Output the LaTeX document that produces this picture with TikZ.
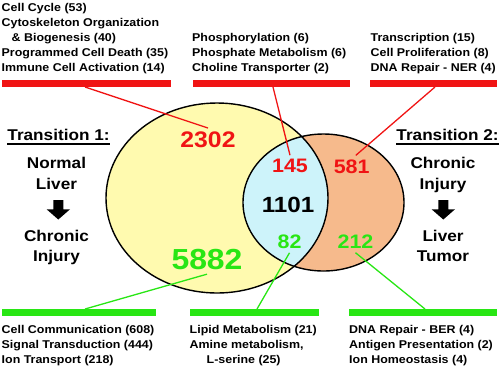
\documentclass[tikz,border=0pt]{standalone}
\usepackage{xcolor}
\usepackage{fontspec}
\setmainfont{Liberation Sans}[FakeStretch=1.1]
\usepackage{tikz}

\definecolor{vennred}{RGB}{240,20,20}
\definecolor{venngreen}{RGB}{40,230,20}
\definecolor{vennyellow}{RGB}{255,250,175}
\definecolor{venncyan}{RGB}{205,243,250}
\definecolor{vennpeach}{RGB}{246,186,140}

\begin{document}
\begin{tikzpicture}[x=1pt, y=-1pt,
        golist/.style={font=\bfseries\fontsize{11.3}{15.2}\selectfont, align=left, anchor=north west, inner sep=0},
        stage/.style={font=\bfseries\fontsize{15.6}{18}\selectfont, anchor=base, inner sep=0},
        count/.style={font=\bfseries\fontsize{#1}{#1}\selectfont, inner sep=4pt},
        upline/.style={vennred, line width=1.3pt},
        downline/.style={venngreen, line width=1.3pt}]
        \useasboundingbox (0,0) rectangle (500,368);

        \fill[vennyellow] (217,198) ellipse [x radius=111pt, y radius=95pt];
        \fill[vennpeach] (323.5,202.5) ellipse [x radius=80.5pt, y radius=68.5pt];
        \begin{scope}
            \clip (217,198) ellipse [x radius=111pt, y radius=95pt];
            \fill[venncyan] (323.5,202.5) ellipse [x radius=80.5pt, y radius=68.5pt];
        \end{scope}
        \draw[line width=1.4pt] (217,198) ellipse [x radius=111pt, y radius=95pt];
        \draw[line width=1.4pt] (323.5,202.5) ellipse [x radius=80.5pt, y radius=68.5pt];

        \fill[vennred] (2,80) rectangle (170.5,87);
        \fill[vennred] (192.5,80) rectangle (349.5,87);
        \fill[vennred] (369.5,80) rectangle (497,87);
        \fill[venngreen] (2,309) rectangle (155.5,316);
        \fill[venngreen] (189.5,309) rectangle (318.5,316);
        \fill[venngreen] (349,309) rectangle (497,316);

        \coordinate (rfootA) at (85,87);
        \coordinate (rfootB) at (273,87);
        \coordinate (rfootC) at (435,87);
        \coordinate (gfootA) at (85,309);
        \coordinate (gfootB) at (257,309);
        \coordinate (gfootC) at (425,309);

        \node[golist] (goA) at (1.5,2.8) {Cell Cycle (53)\\Cytoskeleton Organization\\\hspace*{10pt}\& Biogenesis (40)\\Programmed Cell Death (35)\\Immune Cell Activation (14)};
        \node[golist] (goB) at (192,33.2) {Phosphorylation (6)\\Phosphate Metabolism (6)\\Choline Transporter (2)};
        \node[golist] (goC) at (370.5,33.2) {Transcription (15)\\Cell Proliferation (8)\\DNA Repair - NER (4)};
        \node[golist] (goD) at (1.5,324.8) {Cell Communication (608)\\Signal Transduction (444)\\Ion Transport (218)};
        \node[golist] (goE) at (189.5,324.8) {Lipid Metabolism (21)\\Amine metabolism,\\\hspace*{17pt}L-serine (25)};
        \node[golist] (goF) at (349,324.8) {DNA Repair - BER (4)\\Antigen Presentation (2)\\Ion Homeostasis (4)};

        \node[count=22.5, text=vennred] (n2302) at (208,140.2) {2302};
        \node[count=29, text=venngreen] (n5882) at (207,259.7) {5882};
        \node[count=22] (n1101) at (288,205) {1101};
        \node[count=19.5, text=vennred] (n145) at (290,166.2) {145};
        \node[count=19.5, text=vennred] (n581) at (351.7,166.5) {581};
        \node[count=19.5, text=venngreen] (n82) at (289.5,241.7) {82};
        \node[count=19.5, text=venngreen] (n212) at (355.5,241.7) {212};

        \draw[upline] (rfootA) -- (n2302.north);
        \draw[upline] (rfootB) -- (n145.north);
        \draw[upline] (rfootC) -- (n581.70);
        \draw[downline] (gfootA) -- (n5882.south);
        \draw[downline] (gfootB) -- (n82.south);
        \draw[downline] (gfootC) -- (n212.south);

        \node[stage] (trA) at (58.5,140.7) {Transition 1:};
        \draw[line width=2pt] ([yshift=-3.3pt]trA.base west) -- ([yshift=-3.3pt]trA.base east);
        \node[stage] (fromA) at (56.5,168.3) {Normal};
        \node[stage] (fromB) at (56.5,189) {Liver};
        \node[stage] (toA) at (56.5,241) {Chronic};
        \node[stage] (toB) at (56.5,261.7) {Injury};

        \node[stage] (trB) at (447.5,140.7) {Transition 2:};
        \draw[line width=2pt] ([yshift=-3.3pt]trB.base west) -- ([yshift=-3.3pt]trB.base east);
        \node[stage] (fromC) at (443,168.3) {Chronic};
        \node[stage] (fromD) at (443,189) {Injury};
        \node[stage] (toC) at (443,241) {Liver};
        \node[stage] (toD) at (443,261.7) {Tumor};

        \foreach \ax in {58.3,443.3} {
            \fill ({\ax-5},200) -- ({\ax+5},200) -- ({\ax+5},209.3) -- ({\ax+11.7},209.3)
                -- (\ax,219.5) -- ({\ax-11.7},209.3) -- ({\ax-5},209.3) -- cycle;
        }

    \end{tikzpicture}
\end{document}
